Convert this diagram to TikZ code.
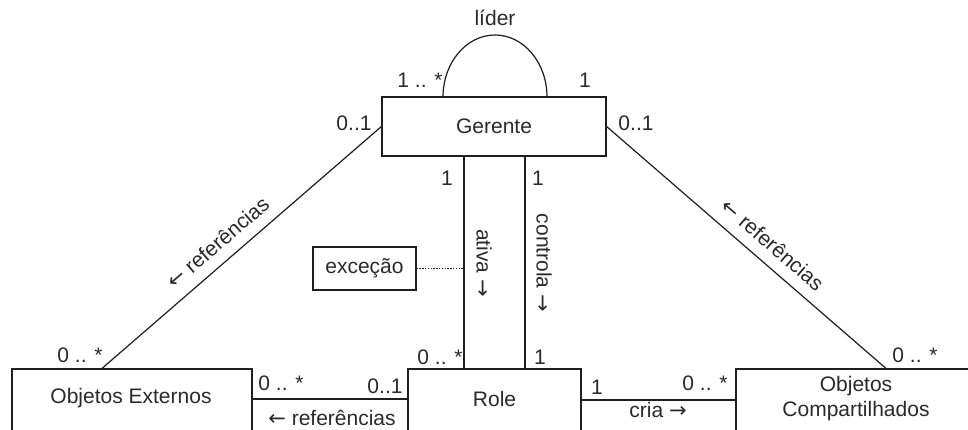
\documentclass[tikz,border=0pt]{standalone}
\usepackage{fontspec}
\setmainfont{Liberation Sans}
\newfontfamily\arrowfont{DejaVu Sans}
\newcommand\myrarr{{\arrowfont\fontsize{21}{25}\selectfont →}}
\newcommand\mylarr{{\arrowfont\fontsize{21}{25}\selectfont ←}}
\usetikzlibrary{calc}
\definecolor{ink}{HTML}{1E1E1E}
\definecolor{txt}{HTML}{2A2A2A}
\begin{document}
\begin{tikzpicture}[x=1pt,y=1pt,
  every node/.style={font=\fontsize{21}{25}\selectfont, text=txt, inner sep=0pt},
  box/.style={draw=ink, line width=1.2pt, rectangle, fill=white},
  conn/.style={draw=ink, line width=1.2pt},
  note/.style={draw=ink, line width=0.8pt, dash pattern=on 1.4pt off 1.4pt}]
\useasboundingbox (0,0) rectangle (968,429);
\fill[white] (0,0) rectangle (968,429);
\clip (0,0) rectangle (968,429);
% classes
\node[box, minimum width=224pt, minimum height=59pt] (ger) at (494,302.5) {Gerente};
\node[box, minimum width=173pt, minimum height=62pt] (role) at (494.5,29) {};
\node at (494.5,30) {Role};
\node[box, minimum width=240pt, minimum height=62pt] (ext) at (132,29) {};
\node at (131,31) {Objetos Externos};
\node[box, minimum width=240pt, minimum height=62pt] (comp) at (856,29) {};
\node[align=center, font=\fontsize{21}{25}\selectfont] (compT) at (856,30) {Objetos\\Compartilhados};
\node[box, minimum width=103pt, minimum height=43pt] (exc) at (364.5,160.5) {exceção};
% self association
\coordinate (arcL) at (443,332);
\draw[conn] (arcL) arc[start angle=180, end angle=0, x radius=52, y radius=62];
\node (lider) at (495,411) {líder};
\node at (420,349) {1 .. *};
\node at (585,349) {1};
% Gerente - Role
\draw[conn] (ger.south -| 464,0) -- (role.north -| 464,0);
\draw[conn] (ger.south -| 525,0) -- (role.north -| 525,0);
\node at (447,251) {1};
\node at (538,251) {1};
\node at (440,72) {0 .. *};
\node at (540,72) {1};
\node[rotate=-90] at (484,166) {ativa \myrarr};
\node[rotate=-90] at (544,166) {controla \myrarr};
\coordinate (ativaP) at (464,161);
\draw[note] (exc.east) -- (exc.east -| ativaP);
% Gerente - Objetos Externos
\draw[conn] ([xshift=-30pt]ext.north) -- (ger.west)
  node[pos=0.46, sloped, above=11pt] {\mylarr\ referências};
\node at (354,306) {0..1};
\node at (80,74) {0 .. *};
% Gerente - Objetos Compartilhados
\draw[conn] (ger.east) -- ([xshift=30pt]comp.north)
  node[pos=0.55, sloped, above=11pt] {\mylarr\ referências};
\node at (636,306) {0..1};
\node at (915,74) {0 .. *};
% Objetos Externos - Role
\draw[conn] (ext.east |- 0,30) -- (role.west |- 0,30);
\node at (281,46) {0 .. *};
\node at (385,43) {0..1};
\node at (332,11) {\mylarr\ referências};
% Role - Objetos Compartilhados
\draw[conn] (role.east |- 0,29) -- (comp.west |- 0,29);
\node at (597,42) {1};
\node at (705,46) {0 .. *};
\node at (658,19) {cria \myrarr};
\end{tikzpicture}
\end{document}
